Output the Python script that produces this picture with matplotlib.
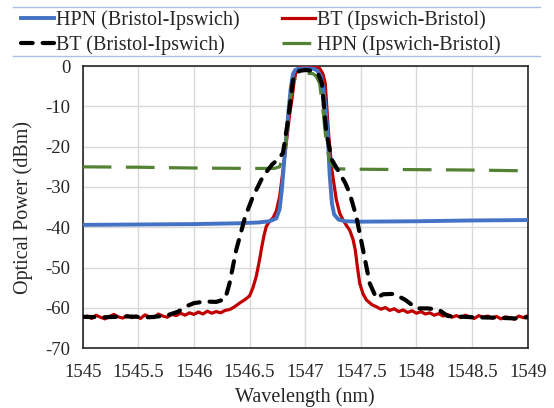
import matplotlib
matplotlib.use("Agg")
import matplotlib.pyplot as plt
from matplotlib.lines import Line2D

plt.rcParams["font.family"] = ["Liberation Serif", "DejaVu Serif"]
plt.rcParams["axes.unicode_minus"] = False

# ── data ─────────────────────────────────────────────────────────────────────
hpn_bi_x = [1545.0, 1545.5, 1546.0, 1546.4, 1546.58, 1546.68, 1546.74, 1546.77,
            1546.79, 1546.81, 1546.83, 1546.85, 1546.87, 1546.89, 1546.91, 1546.94,
            1547.0, 1547.08, 1547.11, 1547.14, 1547.16, 1547.18, 1547.20, 1547.22,
            1547.24, 1547.26, 1547.30, 1547.36, 1547.5, 1548.0, 1548.5, 1549.0]
hpn_bi_y = [-39.4, -39.3, -39.2, -39.0, -38.8, -38.5, -37.8, -35.5,
            -30.7, -24.0, -17.5, -11.0, -5.5, -2.0, -1.0, -0.7,
            -0.6, -0.7, -1.2, -2.4, -5.0, -9.5, -16.0, -27.0,
            -34.0, -36.8, -38.1, -38.5, -38.6, -38.5, -38.3, -38.2]

bt_ib_x = [1545.00, 1545.04, 1545.08, 1545.12, 1545.16, 1545.20, 1545.24, 1545.28,
           1545.32, 1545.36, 1545.40, 1545.44, 1545.48, 1545.52, 1545.56, 1545.60,
           1545.64, 1545.68, 1545.72, 1545.76, 1545.80, 1545.84, 1545.88, 1545.92,
           1545.96, 1546.00, 1546.04, 1546.08, 1546.12, 1546.16, 1546.20, 1546.24,
           1546.28, 1546.32, 1546.36, 1546.41, 1546.46, 1546.50, 1546.53, 1546.56,
           1546.59, 1546.61, 1546.63, 1546.65, 1546.68, 1546.71, 1546.74, 1546.77,
           1546.80, 1546.83, 1546.86, 1546.88, 1546.90, 1546.92, 1546.95, 1547.00,
           1547.05, 1547.10, 1547.13, 1547.16, 1547.18, 1547.21, 1547.24, 1547.28,
           1547.31, 1547.34, 1547.37, 1547.40, 1547.43, 1547.45, 1547.47, 1547.49,
           1547.52, 1547.55, 1547.60, 1547.64,
           1547.68, 1547.72, 1547.76, 1547.80, 1547.84, 1547.88, 1547.92, 1547.96,
           1548.00, 1548.04, 1548.08, 1548.12, 1548.16, 1548.20, 1548.24, 1548.28,
           1548.32, 1548.36, 1548.40, 1548.44, 1548.48, 1548.52, 1548.56, 1548.60,
           1548.64, 1548.68, 1548.72, 1548.76, 1548.80, 1548.84, 1548.88, 1548.92,
           1548.96, 1549.00]
bt_ib_y = [-62.4, -62.0, -62.6, -61.8, -62.3, -62.7, -62.1, -61.6,
           -62.2, -62.5, -61.9, -62.4, -62.0, -62.6, -61.7, -62.2,
           -62.4, -61.5, -62.0, -62.3, -61.6, -61.9, -61.3, -61.8,
           -61.2, -61.6, -61.0, -61.5, -60.8, -61.3, -60.9, -61.2,
           -60.6, -60.4, -59.8, -58.8, -57.9, -57.0, -55.0, -52.2,
           -48.0, -44.8, -42.0, -39.8, -38.5, -37.7, -36.0, -32.4,
           -26.0, -19.1, -12.0, -8.4, -4.0, -1.0, -0.3, -0.1,
           -0.1, -0.2, -0.6, -2.0, -4.3, -16.7, -25.8, -33.2,
           -36.5, -38.2, -39.5, -40.7, -43.0, -45.6, -50.0, -53.9,
           -56.5, -58.0, -59.2, -59.7,
           -60.3, -59.9, -60.6, -60.2, -60.9, -60.5, -61.1, -60.7,
           -61.3, -60.9, -61.5, -61.2, -61.8, -61.4, -62.0, -61.6,
           -62.3, -61.9, -62.4, -61.8, -62.2, -62.6, -61.9, -62.3,
           -62.0, -62.5, -62.1, -62.7, -62.2, -62.4, -62.8, -62.0,
           -62.4, -61.9]

bt_bi_x = [1545.0, 1545.2, 1545.4, 1545.6, 1545.75, 1545.86, 1545.92, 1546.0,
           1546.1, 1546.2, 1546.28, 1546.32, 1546.38, 1546.46, 1546.53, 1546.62,
           1546.70, 1546.76, 1546.80, 1546.85, 1546.89, 1546.92, 1546.95, 1547.0,
           1547.08, 1547.12, 1547.15, 1547.19, 1547.24, 1547.31, 1547.36, 1547.40,
           1547.46, 1547.52, 1547.58, 1547.64, 1547.70, 1547.80, 1547.90, 1548.0,
           1548.1, 1548.2, 1548.28, 1548.5, 1548.7, 1548.9, 1549.0]
bt_bi_y = [-62.2, -62.3, -62.1, -62.3, -61.9, -60.9, -59.7, -58.8,
           -58.4, -58.5, -57.8, -53.9, -45.6, -37.4, -32.4, -27.4,
           -24.5, -23.0, -21.6, -12.6, -3.5, -1.8, -1.2, -1.0,
           -1.2, -2.2, -4.3, -16.7, -23.3, -26.6, -29.0, -31.6,
           -37.4, -45.6, -53.9, -57.6, -56.6, -56.5, -58.0, -60.1,
           -60.1, -60.4, -62.0, -62.3, -62.4, -62.6, -62.3]

hpn_ib_x = [1545.0, 1545.5, 1546.0, 1546.5, 1546.72, 1546.77, 1546.80, 1546.82,
            1546.85, 1546.89, 1546.92, 1546.95, 1547.0, 1547.07, 1547.10, 1547.13,
            1547.16, 1547.19, 1547.22, 1547.24, 1547.28, 1547.5, 1548.0, 1548.5,
            1549.0]
hpn_ib_y = [-25.0, -25.1, -25.3, -25.4, -25.4, -25.0, -22.5, -20.8,
            -10.9, -4.3, -2.6, -2.0, -1.8, -1.9, -2.6, -4.3,
            -11.0, -19.2, -23.5, -24.5, -25.5, -25.6, -25.7, -25.8,
            -26.0]

x_ticks = [1545, 1545.5, 1546, 1546.5, 1547, 1547.5, 1548, 1548.5, 1549]
x_tick_labels = ["1545", "1545.5", "1546", "1546.5", "1547", "1547.5", "1548", "1548.5", "1549"]
y_ticks = [0, -10, -20, -30, -40, -50, -60, -70]

# ── figure ───────────────────────────────────────────────────────────────────
W, H = 554, 408
fig = plt.figure(figsize=(W / 100, H / 100), dpi=100)
ax = fig.add_axes([82.7 / W, 1 - 348.3 / H, (527.7 - 82.7) / W, (348.3 - 66) / H])

red, = ax.plot(bt_ib_x, bt_ib_y, color="#C00000", lw=2.3, zorder=3,
               label="BT (Ipswich-Bristol)")
blue, = ax.plot(hpn_bi_x, hpn_bi_y, color="#4472C4", lw=2.8, zorder=4,
                label="HPN (Bristol-Ipswich)")
green, = ax.plot(hpn_ib_x, hpn_ib_y, color="#548235", lw=2.3, zorder=5,
                 dashes=(9, 4.5), label="HPN (Ipswich-Bristol)")
black, = ax.plot(bt_bi_x, bt_bi_y, color="black", lw=3.0, zorder=6,
                 dashes=(2.8, 2.4), dash_capstyle="round", label="BT (Bristol-Ipswich)")

ax.set_xlim(1545, 1549)
ax.set_ylim(-70, 0)
ax.set_xticks(x_ticks)
ax.set_xticklabels(x_tick_labels)
ax.set_yticks(y_ticks)
ax.grid(True, color="#d9d9d9", lw=1.0, zorder=0)
ax.tick_params(length=0, labelsize=13.5, colors="#262626")
ax.tick_params(axis="x", pad=11)
ax.tick_params(axis="y", pad=9)
for s in ax.spines.values():
    s.set_color("#262626")
    s.set_linewidth(1.2)

ax.set_xlabel("Wavelength (nm)", fontsize=14.5, color="#262626", labelpad=5)
ax.set_ylabel("Optical Power (dBm)", fontsize=14.5, color="#262626", labelpad=9)

# legend: two columns placed above the plot
leg_kw = dict(frameon=False, fontsize=14.5, handlelength=1.65, handletextpad=0.1,
              labelspacing=0.27, borderpad=0, borderaxespad=0)
leg1 = fig.legend(handles=[blue, black], loc="upper left",
                  bbox_to_anchor=(21 / W, 1 - 10 / H), **leg_kw)
leg2 = fig.legend(handles=[red, green], loc="upper left",
                  bbox_to_anchor=(282 / W, 1 - 10 / H), **leg_kw)
for lg in (leg1, leg2):
    for t in lg.get_texts():
        t.set_color("#262626")

# thin separators above / below the legend
for yy in (7, 56):
    fig.add_artist(Line2D([13 / W, 540 / W], [1 - yy / H, 1 - yy / H],
                          transform=fig.transFigure, color="#a9bfe3", lw=1.0))

fig.savefig("out.png", dpi=100)
